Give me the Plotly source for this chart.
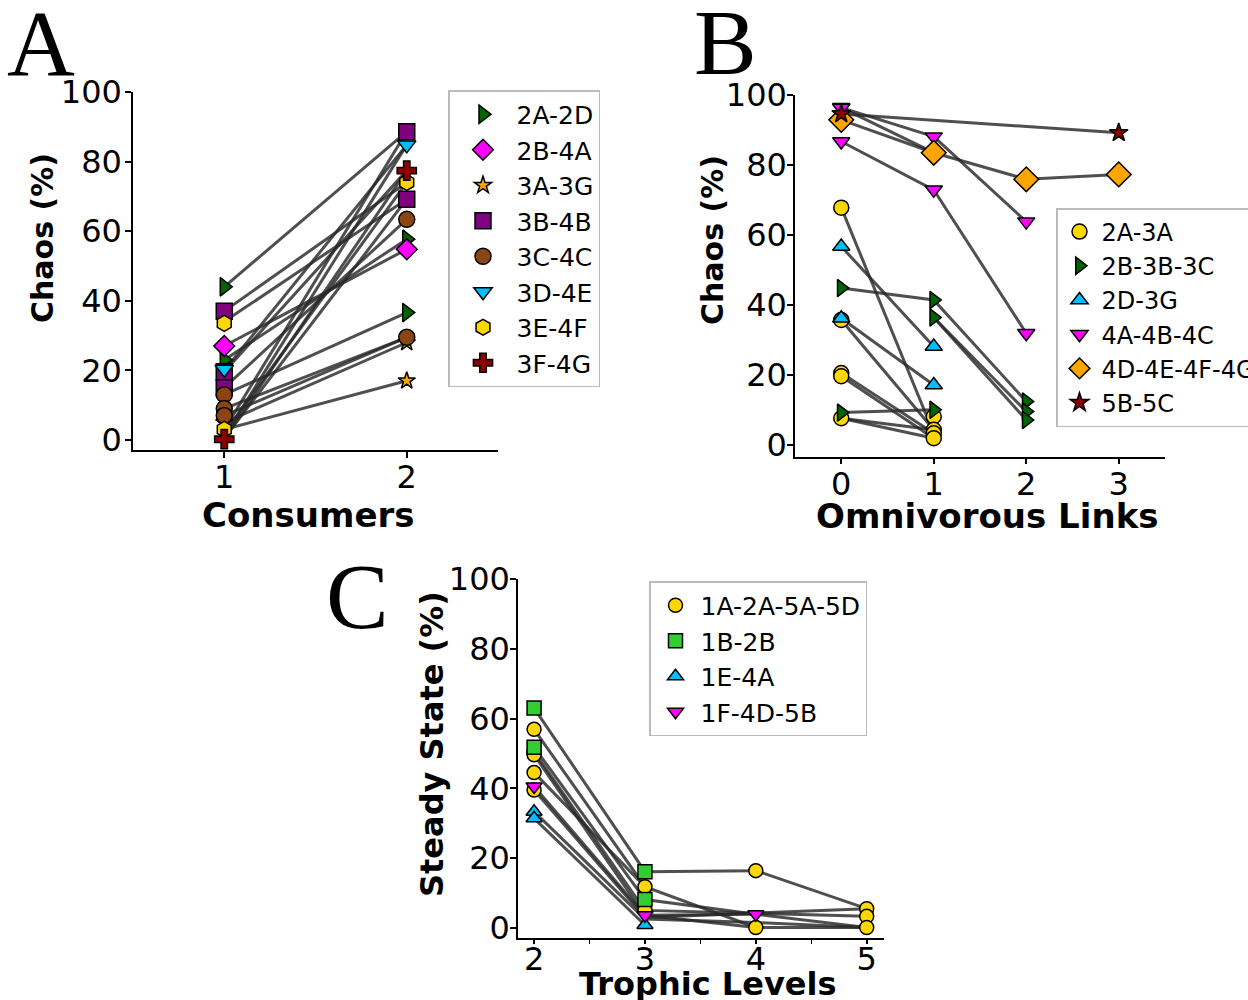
import plotly.graph_objects as go

# ---------------- Panel A data ----------------
A_series = ["2A-2D", "2B-4A", "3A-3G", "3B-4B", "3C-4C", "3D-4E", "3E-4F", "3F-4G"]
A_symbols = ["triangle-right", "diamond", "star", "square", "circle", "triangle-down", "hexagon", "cross"]
A_colors = ["#006400", "#FF00FF", "#FFA500", "#800080", "#8B4513", "#00BFFF", "#FFD700", "#8B0000"]
A_x = [[1, 1, 2, 2], [1, 2], [1, 2, 2], [1, 1, 1, 2, 2], [1, 1, 1, 2, 2], [1, 2], [1, 1, 2], [1, 2]]
A_y = [[44, 23, 57.7, 36.6], [27, 54.8], [5, 28, 17], [37, 19.6, 15, 88.6, 69.2],
       [13, 9, 7, 63.4, 29.5], [20.3, 84.8], [33.5, 3, 74], [0.2, 77.4]]
A_line_start = [44, 37, 34, 27, 23, 20, 19.6, 15, 13, 9, 7, 5, 3, 3, 1, 0.2, 2, 0.5]
A_line_end = [88.6, 74, 69.2, 54.8, 57.7, 84.8, 77.4, 63.4, 36.6, 29.5, 29.5, 28, 17, 88.6, 84.8, 77.4, 74, 69.2]

# ---------------- Panel B data ----------------
B_series = ["2A-3A", "2B-3B-3C", "2D-3G", "4A-4B-4C", "4D-4E-4F-4G", "5B-5C"]
B_symbols = ["circle", "triangle-right", "triangle-up", "triangle-down", "diamond", "star"]
B_colors = ["#FFD700", "#006400", "#00BFFF", "#FF00FF", "#FFA500", "#8B0000"]
B_x = [[0, 0, 0, 0, 0, 1, 1, 1, 1], [0, 0, 1, 1, 1, 2, 2, 2], [0, 0, 1, 1],
       [0, 0, 0, 1, 1, 2, 2], [0, 1, 2, 3], [0, 3]]
B_y = [[67.8, 35.7, 20.5, 19.6, 7.6, 8.1, 4.3, 3.3, 1.9],
       [44.8, 9.2, 41.4, 36.4, 10, 12.4, 9.5, 7.1],
       [56.7, 36.2, 28.1, 17.1],
       [96.5, 96.3, 86.7, 88.1, 72.9, 63.8, 31.9],
       [92.9, 83.5, 75.9, 77.3],
       [94.6, 89.2]]
B_paths = [
    [(0, 94.6), (3, 89.2)],
    [(0, 96.4), (1, 88.1), (2, 63.8)],
    [(0, 96.4), (1, 83.5)],
    [(0, 86.7), (1, 72.9), (2, 31.9)],
    [(0, 92.9), (1, 83.5), (2, 75.9), (3, 77.3)],
    [(0, 67.8), (1, 3.3)],
    [(0, 56.7), (1, 28.1)],
    [(0, 44.8), (1, 41.4), (2, 12.4)],
    [(1, 36.4), (2, 9.5)],
    [(1, 36.4), (2, 7.1)],
    [(0, 36.2), (1, 17.1)],
    [(0, 35.7), (1, 4.3)],
    [(0, 20.5), (1, 3.3)],
    [(0, 19.6), (1, 1.9)],
    [(0, 9.2), (1, 10)],
    [(0, 7.6), (1, 4.3)],
    [(0, 7.6), (1, 1.9)],
]

# ---------------- Panel C data ----------------
C_series = ["1A-2A-5A-5D", "1B-2B", "1E-4A", "1F-4D-5B"]
C_symbols = ["circle", "square", "triangle-up", "triangle-down"]
C_colors = ["#FFD700", "#32CD32", "#00BFFF", "#FF00FF"]
C_x = [[2, 2, 2, 2, 2, 3, 3, 4, 4, 5, 5, 5], [2, 2, 3, 3], [2, 2, 3], [2, 3, 4]]
C_y = [[56.9, 50.5, 49.6, 44.5, 39.5, 11.8, 5, 16.4, 0.1, 5.5, 3.3, 0.1],
       [63, 51.8, 16.1, 8.1],
       [33.3, 31.4, 0.8],
       [40.5, 3.6, 3.9]]
C_paths = [
    [(2, 63), (3, 16.1), (4, 16.4), (5, 5.5)],
    [(2, 56.9), (3, 11.8), (4, 0.1), (5, 0.1)],
    [(2, 51.8), (3, 8.1), (4, 3.9), (5, 0.1)],
    [(2, 50.5), (3, 5), (5, 3.3)],
    [(2, 49.6), (3, 3.6), (4, 0.1)],
    [(2, 44.5), (3, 11.8)],
    [(2, 40.5), (3, 3.6), (4, 3.9)],
    [(2, 39.5), (3, 3), (5, 5.5)],
    [(2, 33.3), (3, 2.5), (4, 1.5), (5, 0.1)],
    [(2, 31.4), (3, 0.8)],
]

# axis titles
A_xtitle, A_ytitle = "Consumers", "Chaos (%)"
B_xtitle, B_ytitle = "Omnivorous Links", "Chaos (%)"
C_xtitle, C_ytitle = "Trophic Levels", "Steady State (%)"

LINE_COLOR = "rgba(40,40,40,0.82)"
FONT = "DejaVu Sans"

fig = go.Figure()


def paths_to_xy(paths):
    xs, ys = [], []
    for p in paths:
        for (x, y) in p:
            xs.append(x)
            ys.append(y)
        xs.append(None)
        ys.append(None)
    return xs, ys


# Panel A lines
ax_, ay_ = [], []
for s, e in zip(A_line_start, A_line_end):
    ax_ += [1, 2, None]
    ay_ += [s, e, None]
fig.add_trace(go.Scatter(x=ax_, y=ay_, mode="lines", line=dict(color=LINE_COLOR, width=3),
                         showlegend=False, hoverinfo="skip", xaxis="x", yaxis="y"))
for name, sym, col, xs, ys in zip(A_series, A_symbols, A_colors, A_x, A_y):
    size = 13 if sym == "star" else 16
    fig.add_trace(go.Scatter(x=xs, y=ys, mode="markers", name=name,
                             marker=dict(symbol=sym, color=col, size=size, line=dict(color="black", width=1.5)),
                             xaxis="x", yaxis="y", legend="legend"))

# Panel B
bx, by = paths_to_xy(B_paths)
fig.add_trace(go.Scatter(x=bx, y=by, mode="lines", line=dict(color=LINE_COLOR, width=3),
                         showlegend=False, hoverinfo="skip", xaxis="x2", yaxis="y2"))
for name, sym, col, xs, ys in zip(B_series, B_symbols, B_colors, B_x, B_y):
    size = {"star": 14, "diamond": 19}.get(sym, 15)
    fig.add_trace(go.Scatter(x=xs, y=ys, mode="markers", name=name,
                             marker=dict(symbol=sym, color=col, size=size, line=dict(color="black", width=1.5)),
                             xaxis="x2", yaxis="y2", legend="legend2"))

# Panel C
cx, cy = paths_to_xy(C_paths)
fig.add_trace(go.Scatter(x=cx, y=cy, mode="lines", line=dict(color=LINE_COLOR, width=3),
                         showlegend=False, hoverinfo="skip", xaxis="x3", yaxis="y3"))
for name, sym, col, xs, ys in zip(C_series, C_symbols, C_colors, C_x, C_y):
    fig.add_trace(go.Scatter(x=xs, y=ys, mode="markers", name=name,
                             marker=dict(symbol=sym, color=col, size=14, line=dict(color="black", width=1.5)),
                             xaxis="x3", yaxis="y3", legend="legend3"))

axis_common = dict(showline=True, linecolor="black", linewidth=1.5, ticks="outside", ticklen=6,
                   tickwidth=1.5, tickcolor="black", showgrid=False, zeroline=False, automargin=False,
                   tickfont=dict(family=FONT, size=32, color="black"))

legend_common = dict(xref="container", yref="container", xanchor="left", yanchor="top", bgcolor="white",
                     bordercolor="#BBBBBB", borderwidth=1.5, font=dict(family=FONT, size=25, color="black"),
                     itemsizing="trace")

fig.update_layout(
    width=1248, height=1000,
    margin=dict(l=0, r=0, t=0, b=0, autoexpand=False),
    paper_bgcolor="white", plot_bgcolor="white",
    font=dict(family=FONT, color="black"),
    xaxis=dict(axis_common, domain=[133 / 1248, 498 / 1248], range=[0.5, 2.5], tickvals=[1, 2],
               anchor="y", ticklabelstandoff=-8),
    yaxis=dict(axis_common, domain=[0.55, 0.908], range=[-2.9, 100], tickvals=[0, 20, 40, 60, 80, 100],
               anchor="x", ticklabelstandoff=-3),
    xaxis2=dict(axis_common, domain=[795 / 1248, 1165 / 1248], range=[-0.5, 3.5], tickvals=[0, 1, 2, 3],
                anchor="y2", ticklabelstandoff=-8),
    yaxis2=dict(axis_common, domain=[1 - 456.7 / 1000, 0.905], range=[-3.4, 100], tickvals=[0, 20, 40, 60, 80, 100],
                anchor="x2", ticklabelstandoff=-6),
    xaxis3=dict(axis_common, domain=[518 / 1248, 884 / 1248], range=[1.855, 5.156], tickvals=[2, 3, 4, 5],
                minor=dict(dtick=0.5, ticks="outside", ticklen=4, tickcolor="black", tickwidth=1),
                ticklen=4, anchor="y3", ticklabelstandoff=-12),
    yaxis3=dict(axis_common, domain=[1 - 938.3 / 1000, 0.421], range=[-3, 100], tickvals=[0, 20, 40, 60, 80, 100],
                anchor="x3", ticklabelstandoff=-6),
    legend=dict(legend_common, x=448 / 1248, y=0.91, itemwidth=57),
    legend2=dict(legend_common, x=1056 / 1248, y=0.792, itemwidth=34,
                 font=dict(family=FONT, size=24, color="black")),
    legend3=dict(legend_common, x=649 / 1248, y=0.419, itemwidth=40),
)

# axis titles (placed as paper annotations)
titles = [
    (A_xtitle, 308, 515, 0, 34), (A_ytitle, 42, 238, -90, 30),
    (B_xtitle, 987, 516, 0, 34), (B_ytitle, 712, 240, -90, 30),
    (C_xtitle, 708, 984, 0, 32), (C_ytitle, 432, 744, -90, 32),
]
for txt, px, py, ang, fs in titles:
    fig.add_annotation(text="<b>" + txt + "</b>", x=px / 1248, y=1 - py / 1000, xref="paper", yref="paper",
                       showarrow=False, xanchor="center", yanchor="middle", textangle=ang,
                       font=dict(family=FONT, size=fs, color="black"))

letter_font = dict(family="Liberation Serif", size=94, color="black")
for txt, px, py in [("A", 41, 43), ("B", 725, 42), ("C", 357, 596)]:
    fig.add_annotation(text=txt, x=px / 1248, y=1 - py / 1000, xref="paper", yref="paper", showarrow=False,
                       xanchor="center", yanchor="middle", font=letter_font)

fig.write_html("out.html", config={"displayModeBar": False},
               post_script="document.body.style.margin='0px';")
